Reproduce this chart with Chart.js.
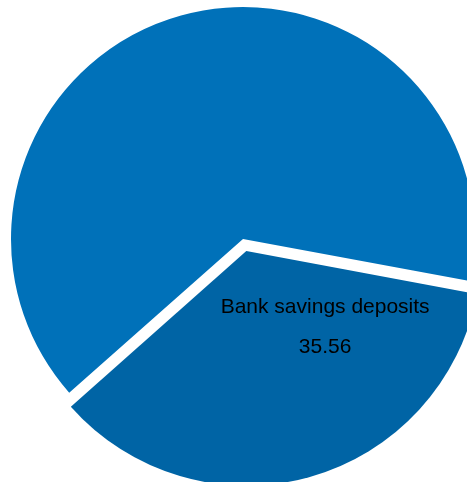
<!DOCTYPE html>
<html lang="en">
<head>
    <meta charset="UTF-8">
    <title>Savings pie</title>
    <script src="https://cdn.jsdelivr.net/npm/chart.js"></script>
    <style>
        html, body {
            margin: 0;
            padding: 0;
            background: #fff;
            overflow: hidden;
        }
        #wrap {
            width: 467px;
            height: 482px;
            position: relative;
        }
    </style>
</head>
<body>
    <div id="wrap">
        <canvas id="pie"></canvas>
    </div>

    <script>
        const categories = ['Bank savings deposits', 'Other'];
        const shares = [35.56, 64.44];
        const sliceColors = ['#0064A5', '#0071B9'];
        const sliceOffsets = [50, 0];

        // text drawn inside the first slice (name + value)
        const sliceLabels = {
            id: 'sliceLabels',
            afterDatasetsDraw(chart) {
                const arc = chart.getDatasetMeta(0).data[0];
                const ctx = chart.ctx;
                const ang = 46.7 * Math.PI / 180;
                const dist = arc.outerRadius * 0.51;
                const cx = arc.x + Math.cos(ang) * dist;
                const cy = arc.y + Math.sin(ang) * dist;
                ctx.save();
                ctx.fillStyle = '#000';
                ctx.font = '21px "Liberation Sans", Arial, sans-serif';
                ctx.textAlign = 'center';
                ctx.textBaseline = 'middle';
                ctx.fillText(categories[0], cx + 1, cy - 18);
                ctx.fillText(shares[0].toFixed(2), cx + 1, cy + 22);
                ctx.restore();
            }
        };

        new Chart(document.getElementById('pie'), {
            type: 'pie',
            data: {
                labels: categories,
                datasets: [{
                    data: shares,
                    backgroundColor: sliceColors,
                    borderWidth: 0,
                    offset: sliceOffsets
                }]
            },
            options: {
                responsive: true,
                maintainAspectRatio: false,
                animation: false,
                rotation: 100.5,
                radius: 232,
                layout: { padding: { left: 19, top: 0, right: 0, bottom: 4 } },
                plugins: {
                    legend: { display: false },
                    tooltip: { enabled: false }
                }
            },
            plugins: [sliceLabels]
        });
    </script>
</body>
</html>
